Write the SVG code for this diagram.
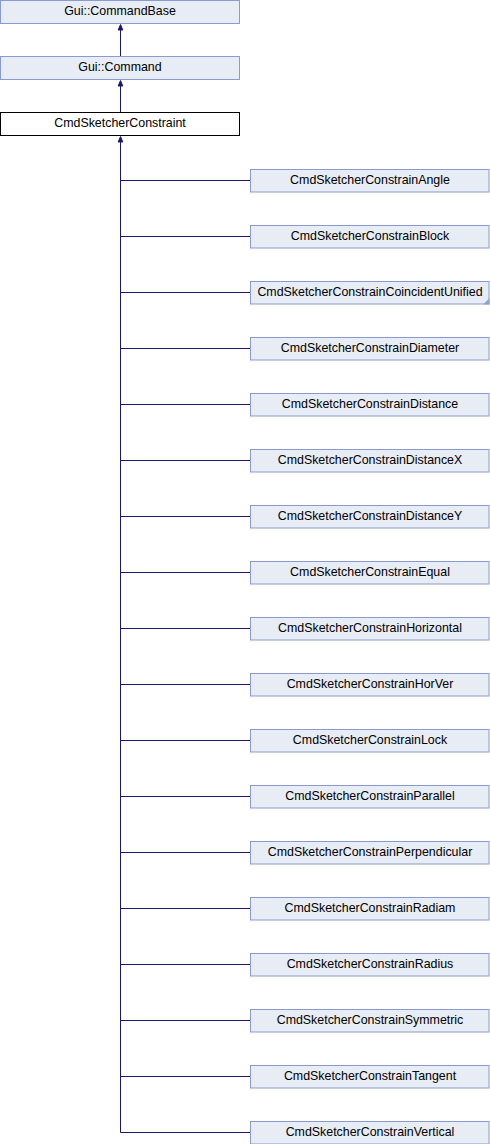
<svg xmlns="http://www.w3.org/2000/svg" width="490" height="1144" viewBox="0 0 490 1144">
<style>
.n{fill:#e8ecf5;stroke:#8a9ccb;stroke-width:1}
.c{fill:#ffffff;stroke:#000000;stroke-width:1}
.t{font-family:"Liberation Sans",Arial,sans-serif;font-size:12.4px;fill:#000000;text-anchor:middle}
.e{fill:none;stroke:#191970;stroke-width:1}
.a{fill:#191970;stroke:#191970;stroke-width:1}
.f{fill:#8ea3d1}
</style>
<rect width="490" height="1144" fill="#ffffff"/>
<g id="connectors">
<path class="e" d="M120.5,30 V56.5"/>
<polygon class="a" points="120.5,24.5 118.2,30 122.8,30"/>
<path class="e" d="M120.5,86 V112.5"/>
<polygon class="a" points="120.5,80.5 118.2,86 122.8,86"/>
<path class="e" d="M120.5,142 V1132.5"/>
<polygon class="a" points="120.5,136.5 118.2,142 122.8,142"/>
<path class="e" d="M120.5,180.5H250M120.5,236.5H250M120.5,292.5H250M120.5,348.5H250M120.5,404.5H250M120.5,460.5H250M120.5,516.5H250M120.5,572.5H250M120.5,628.5H250M120.5,684.5H250M120.5,740.5H250M120.5,796.5H250M120.5,852.5H250M120.5,908.5H250M120.5,964.5H250M120.5,1020.5H250M120.5,1076.5H250M120.5,1132.5H250"/>
</g>
<g id="node-commandbase"><rect class="n" x="0.5" y="0.5" width="239" height="23"/><text class="t" x="120" y="15">Gui::CommandBase</text></g>
<g id="node-command"><rect class="n" x="0.5" y="56.5" width="239" height="23"/><text class="t" x="120" y="71">Gui::Command</text></g>
<g id="node-constraint"><rect class="c" x="0.5" y="112.5" width="239" height="23"/><text class="t" x="120" y="127">CmdSketcherConstraint</text></g>
<g id="node-angle"><rect class="n" x="250.5" y="169.5" width="238.5" height="22.5"/><text class="t" x="370" y="184">CmdSketcherConstrainAngle</text></g>
<g id="node-block"><rect class="n" x="250.5" y="225.5" width="238.5" height="22.5"/><text class="t" x="370" y="240">CmdSketcherConstrainBlock</text></g>
<g id="node-coincident"><rect class="n" x="250.5" y="281.5" width="238.5" height="22.5"/><polygon class="f" points="483,304.5 489.5,304.5 489.5,298"/><text class="t" x="370" y="296">CmdSketcherConstrainCoincidentUnified</text></g>
<g id="node-diameter"><rect class="n" x="250.5" y="337.5" width="238.5" height="22.5"/><text class="t" x="370" y="352">CmdSketcherConstrainDiameter</text></g>
<g id="node-distance"><rect class="n" x="250.5" y="393.5" width="238.5" height="22.5"/><text class="t" x="370" y="408">CmdSketcherConstrainDistance</text></g>
<g id="node-distancex"><rect class="n" x="250.5" y="449.5" width="238.5" height="22.5"/><text class="t" x="370" y="464">CmdSketcherConstrainDistanceX</text></g>
<g id="node-distancey"><rect class="n" x="250.5" y="505.5" width="238.5" height="22.5"/><text class="t" x="370" y="520">CmdSketcherConstrainDistanceY</text></g>
<g id="node-equal"><rect class="n" x="250.5" y="561.5" width="238.5" height="22.5"/><text class="t" x="370" y="576">CmdSketcherConstrainEqual</text></g>
<g id="node-horizontal"><rect class="n" x="250.5" y="617.5" width="238.5" height="22.5"/><text class="t" x="370" y="632">CmdSketcherConstrainHorizontal</text></g>
<g id="node-horver"><rect class="n" x="250.5" y="673.5" width="238.5" height="22.5"/><text class="t" x="370" y="688">CmdSketcherConstrainHorVer</text></g>
<g id="node-lock"><rect class="n" x="250.5" y="729.5" width="238.5" height="22.5"/><text class="t" x="370" y="744">CmdSketcherConstrainLock</text></g>
<g id="node-parallel"><rect class="n" x="250.5" y="785.5" width="238.5" height="22.5"/><text class="t" x="370" y="800">CmdSketcherConstrainParallel</text></g>
<g id="node-perpendicular"><rect class="n" x="250.5" y="841.5" width="238.5" height="22.5"/><text class="t" x="370" y="856">CmdSketcherConstrainPerpendicular</text></g>
<g id="node-radiam"><rect class="n" x="250.5" y="897.5" width="238.5" height="22.5"/><text class="t" x="370" y="912">CmdSketcherConstrainRadiam</text></g>
<g id="node-radius"><rect class="n" x="250.5" y="953.5" width="238.5" height="22.5"/><text class="t" x="370" y="968">CmdSketcherConstrainRadius</text></g>
<g id="node-symmetric"><rect class="n" x="250.5" y="1009.5" width="238.5" height="22.5"/><text class="t" x="370" y="1024">CmdSketcherConstrainSymmetric</text></g>
<g id="node-tangent"><rect class="n" x="250.5" y="1065.5" width="238.5" height="22.5"/><text class="t" x="370" y="1080">CmdSketcherConstrainTangent</text></g>
<g id="node-vertical"><rect class="n" x="250.5" y="1121.5" width="238.5" height="22.5"/><text class="t" x="370" y="1136">CmdSketcherConstrainVertical</text></g>
</svg>
